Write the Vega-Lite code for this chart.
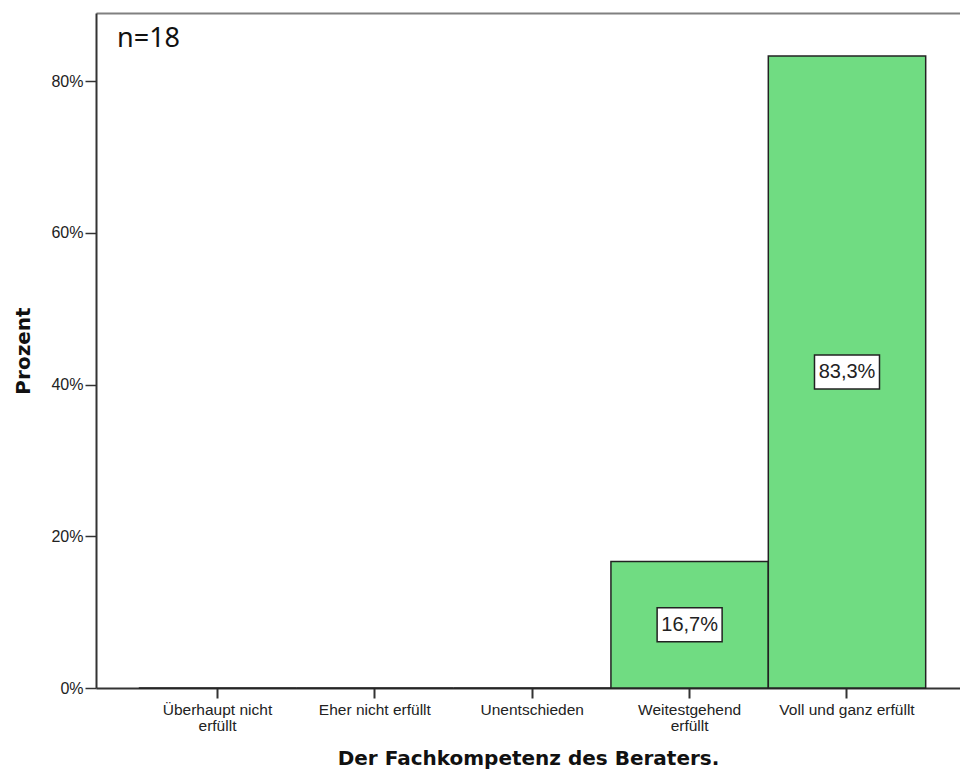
{
  "$schema": "https://vega.github.io/schema/vega-lite/v6.json",
  "autosize": {"type": "none"},
  "padding": {"left": 96, "top": 13, "right": 0, "bottom": 90},
  "width": 864,
  "height": 675,
  "background": "white",
  "config": {"view": {"stroke": null}},
  "title": {
    "text": "n=18",
    "anchor": "start",
    "orient": "top",
    "frame": "group",
    "offset": -61,
    "dx": 21,
    "baseline": "alphabetic",
    "font": "Noto Sans",
    "fontSize": 27,
    "fontWeight": "normal",
    "color": "#111"
  },
  "data": {
    "values": [
      {"kategorie": "Überhaupt nicht erfüllt", "pct": 0, "label": ""},
      {"kategorie": "Eher nicht erfüllt", "pct": 0, "label": ""},
      {"kategorie": "Unentschieden", "pct": 0, "label": ""},
      {"kategorie": "Weitestgehend erfüllt", "pct": 0.1667, "label": "16,7%"},
      {"kategorie": "Voll und ganz erfüllt", "pct": 0.8333, "label": "83,3%"}
    ]
  },
  "layer": [
    {
      "mark": {"type": "bar", "fill": "#70DC82", "stroke": "#222", "strokeWidth": 1.5},
      "encoding": {
        "x": {
          "field": "kategorie",
          "type": "nominal",
          "sort": null,
          "scale": {"paddingInner": 0, "paddingOuter": 0.245, "align": 0.555},
          "axis": {
            "title": "Der Fachkompetenz des Beraters.",
            "titleFont": "DejaVu Sans",
            "titleFontSize": 20,
            "titleFontWeight": "bold",
            "titleColor": "#111",
            "titlePadding": 15,
            "labelAngle": 0,
            "labelFont": "Liberation Sans",
            "labelFontSize": 15.5,
            "labelColor": "#222",
            "labelLineHeight": 16,
            "labelPadding": 4,
            "labelExpr": "datum.value == 'Überhaupt nicht erfüllt' ? ['Überhaupt nicht', 'erfüllt'] : datum.value == 'Weitestgehend erfüllt' ? ['Weitestgehend', 'erfüllt'] : datum.value",
            "domainColor": "#333",
            "domainWidth": 2,
            "tickColor": "#333",
            "tickWidth": 2,
            "tickSize": 10,
            "grid": false
          }
        },
        "y": {
          "field": "pct",
          "type": "quantitative",
          "scale": {"domain": [0, 0.89], "nice": false},
          "axis": {
            "title": "Prozent",
            "titleFont": "DejaVu Sans",
            "titleFontSize": 20,
            "titleFontWeight": "bold",
            "titleColor": "#111",
            "titlePadding": 17,
            "values": [0, 0.2, 0.4, 0.6, 0.8],
            "format": ".0%",
            "labelFont": "Liberation Sans",
            "labelFontSize": 16,
            "labelColor": "#222",
            "labelPadding": 2,
            "domainColor": "#333",
            "domainWidth": 2,
            "tickColor": "#333",
            "tickWidth": 1.5,
            "tickSize": 11,
            "grid": false
          }
        }
      }
    },
    {
      "transform": [{"filter": "datum.pct > 0"}, {"calculate": "datum.pct / 2", "as": "mitte"}],
      "mark": {
        "type": "point",
        "shape": "M-1,-0.523L1,-0.523L1,0.523L-1,0.523Z",
        "size": 4225,
        "filled": true,
        "fill": "white",
        "stroke": "#222",
        "strokeWidth": 1.5,
        "opacity": 1
      },
      "encoding": {
        "x": {
          "field": "kategorie",
          "type": "nominal",
          "sort": null,
          "axis": {
            "orient": "top",
            "title": null,
            "labels": false,
            "ticks": false,
            "grid": false,
            "domain": true,
            "domainColor": "#808080",
            "domainWidth": 2
          }
        },
        "y": {"field": "mitte", "type": "quantitative"}
      }
    },
    {
      "transform": [{"filter": "datum.pct > 0"}, {"calculate": "datum.pct / 2", "as": "mitte"}],
      "mark": {
        "type": "text",
        "font": "Liberation Sans",
        "fontSize": 20,
        "color": "#222",
        "baseline": "middle",
        "align": "center"
      },
      "encoding": {
        "x": {"field": "kategorie", "type": "nominal", "sort": null, "axis": null},
        "y": {"field": "mitte", "type": "quantitative"},
        "text": {"field": "label"}
      }
    }
  ],
  "resolve": {"axis": {"x": "independent"}}
}
